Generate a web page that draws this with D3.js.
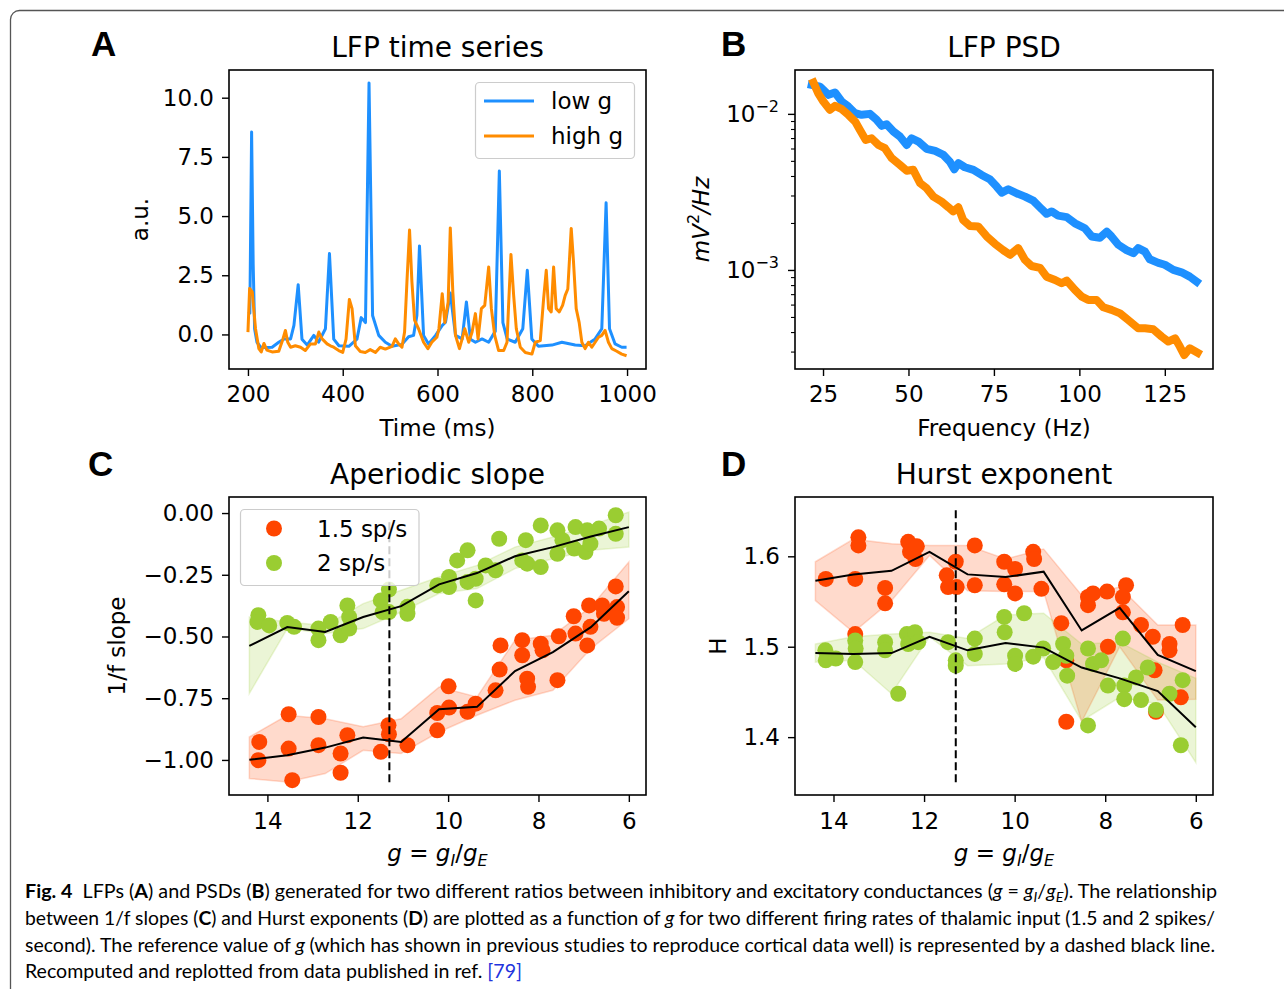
<!DOCTYPE html>
<html>
<head>
<meta charset="utf-8">
<script src="https://cdn.jsdelivr.net/npm/d3@7"></script>
<style>
  body { margin: 0; background: #fff; }
  svg { display: block; }
  text { font-family: "DejaVu Sans", sans-serif; fill: #000; }
</style>
</head>
<body>
<script>
// ---------- data ----------

// A: LFP time series, [time (ms), a.u.]
var lowG = [[200,0.88],[204,0.9],[207.7,8.55],[211,3.0],[214,0.24],[219,-0.33],[227,-0.54],[237,-0.55],[251,-0.54],
  [265,-0.33],[276,-0.19],[290,-0.19],[297,0.38],[306,2.1],[314,-0.2],[325,-0.45],[339,-0.04],[349,-0.33],[363.5,0.24],
  [372,3.42],[381,-0.2],[392,-0.48],[413,-0.5],[430,-0.2],[439,0.71],[448,0.5],[455.5,10.62],[463,0.8],[476,-0.04],
  [490,-0.33],[504,-0.5],[525,-0.42],[539,-0.1],[549.5,-0.04],[556.5,0.8],[562,3.74],[570.6,-0.04],[581,-0.4],
  [596,-0.04],[610,0.38],[617,0.52],[627,1.75],[638,-0.04],[652,-0.19],[661,1.37],[669.5,-0.2],[680,-0.33],[694,-0.19],
  [708,-0.33],[722,0.14],[730.5,6.9],[738,0.5],[747,-0.19],[764,-0.33],[780,0.24],[789.5,2.71],[799,-0.19],[813,-0.5],
  [841.5,-0.45],[862.5,-0.33],[890.5,-0.45],[911.6,-0.48],[932.7,-0.19],[946.7,0.24],[955.8,5.56],[963,0.24],
  [974.8,-0.4],[988.8,-0.54],[999,-0.54]];
var highG = [[200,0.1],[203.5,1.94],[209,1.8],[216,0.24],[223,-0.6],[228,-0.74],[233.7,-0.38],[240,-0.66],[251,-0.74],
  [265,-0.71],[273.7,-0.2],[279,0.17],[284,-0.33],[290,-0.54],[300,-0.48],[311,-0.54],[321,-0.68],[332,-0.4],[342.5,-0.4],
  [349.5,0.1],[356.5,-0.19],[367,-0.4],[374,-0.48],[381,-0.54],[391.6,-0.68],[400,-0.76],[407,-0.2],[414,1.48],
  [419.7,1.09],[426.7,-0.48],[437,-0.72],[447.7,-0.76],[458,-0.64],[469,-0.76],[479,-0.54],[490,-0.62],[504,-0.5],
  [511,-0.19],[518,-0.4],[525,-0.54],[530.5,0.1],[535.5,2.22],[541,4.41],[546,2.22],[551.6,0.6],[560,0.24],[570.6,-0.33],
  [579.7,-0.6],[588,-0.33],[598.6,-0.12],[603,0.24],[610,1.72],[615.5,0.5],[622.5,1.37],[627,4.5],[632.3,1.8],[638,-0.04],
  [646.3,-0.6],[652,-0.19],[657.5,0.24],[666,-0.33],[673,0.1],[680,0.88],[685.6,-0.19],[692.6,1.09],[699.7,1.23],
  [708,2.85],[713.7,1.09],[720.7,-0.04],[729,-0.68],[739.7,-0.68],[746.7,-0.33],[750,1.23],[755,3.38],[760.7,1.65],
  [766.3,0.24],[774.8,-0.54],[785.3,-0.76],[799.3,-0.83],[806.3,-0.33],[816.9,-0.26],[824,1.52],[829.5,2.71],
  [834.4,1.09],[840,0.95],[845,2.85],[850.5,1.09],[857,0.95],[864,1.23],[869.5,1.65],[875,1.92],[882.2,4.48],[887,3.07],
  [892.7,1.09],[899,0.5],[904.6,-0.33],[911.6,-0.6],[918.6,-0.33],[925.6,-0.54],[932.7,-0.33],[939.7,-0.12],
  [946.7,-0.04],[953.7,0.17],[960.7,-0.33],[967.8,-0.6],[978.3,-0.71],[988.8,-0.83],[999,-0.9]];

// B: PSD, [frequency (Hz), mV^2/Hz]
var lowGPsd = [[21.7,0.01535],[24.1,0.01496],[26.6,0.01324],[28.5,0.01371],[30.5,0.01199],[32.4,0.01114],[34.4,0.01009],
  [36.3,0.00986],[38.7,0.0100],[40.7,0.00916],[42.2,0.00838],[43.6,0.00859],[45.6,0.00771],[47.5,0.00716],[49.5,0.00632],
  [50.9,0.00698],[52.9,0.00665],[55.3,0.00597],[57.8,0.00579],[60.2,0.00546],[62.1,0.00494],[63.4,0.00442],[64.6,0.00483],
  [66.5,0.00455],[69.0,0.00438],[71.4,0.00406],[73.8,0.00381],[75.8,0.00342],[77.3,0.00313],[79.2,0.00329],[81.6,0.00310],
  [84.1,0.00295],[86.5,0.00278],[89.0,0.00245],[90.4,0.00229],[91.9,0.00237],[93.8,0.00223],[96.3,0.00218],[98.7,0.00199],
  [101.6,0.00185],[103.6,0.00164],[106.0,0.00161],[108.0,0.00176],[109.4,0.00164],[111.4,0.00145],[113.8,0.00134],
  [115.8,0.00128],[117.2,0.00138],[119.2,0.00131],[120.6,0.00117],[123.1,0.00111],[125.0,0.00108],[127.5,0.00100],
  [129.9,0.000966],[132.3,0.000906],[134.3,0.000841]];
var highGPsd = [[22.2,0.01589],[23.6,0.01355],[25.1,0.01199],[27.0,0.01062],[28.5,0.01125],[30.5,0.01072],[32.4,0.00986],
  [34.4,0.00893],[35.8,0.00789],[37.5,0.00681],[39.2,0.00698],[41.2,0.00632],[43.1,0.00603],[45.1,0.00520],[47.5,0.00471],
  [49.5,0.00432],[51.4,0.00438],[53.4,0.00360],[55.3,0.00334],[57.3,0.00295],[59.7,0.00274],[61.7,0.00252],[63.1,0.00237],
  [64.6,0.00252],[66.0,0.00209],[68.0,0.00191],[70.4,0.00190],[72.9,0.00164],[75.3,0.00147],[77.7,0.00134],[79.7,0.00125],
  [82.1,0.00138],[84.1,0.00116],[86.0,0.00106],[88.5,0.00103],[90.4,0.000906],[92.9,0.000863],[94.8,0.000822],
  [96.3,0.000855],[98.7,0.000745],[100.7,0.000675],[102.6,0.000643],[105.0,0.000643],[107.0,0.000577],[109.4,0.000555],
  [111.9,0.000527],[114.3,0.000478],[117.2,0.000423],[119.2,0.000423],[121.6,0.000417],[124.1,0.000374],[126.0,0.000348],
  [128.0,0.000365],[129.4,0.000323],[130.7,0.000285],[132.3,0.000315],[134.6,0.000295]];

// C/D: g groups, means and band edges
var gGroups = [14.4, 13.56, 12.72, 11.88, 11.04, 10.2, 9.36, 8.52, 7.68, 6.84, 6.0];
var refG = 11.3;

var slopeMean15 = [-0.999,-0.981,-0.950,-0.909,-0.927,-0.795,-0.785,-0.640,-0.563,-0.462,-0.317];
var slopeLo15   = [-1.075,-1.089,-1.055,-0.961,-0.974,-0.887,-0.819,-0.758,-0.718,-0.549,-0.428];
var slopeHi15   = [-0.907,-0.819,-0.833,-0.866,-0.833,-0.705,-0.745,-0.515,-0.495,-0.380,-0.198];
var slopeMean2  = [-0.538,-0.462,-0.482,-0.421,-0.377,-0.289,-0.243,-0.175,-0.138,-0.095,-0.057];
var slopeLo2    = [-0.731,-0.468,-0.488,-0.468,-0.401,-0.326,-0.306,-0.225,-0.185,-0.151,-0.138];
var slopeHi2    = [-0.421,-0.441,-0.455,-0.367,-0.313,-0.259,-0.212,-0.138,-0.097,-0.050,0.004];

var hurstMean15 = [1.573,1.580,1.584,1.605,1.580,1.577,1.583,1.518,1.543,1.491,1.473];
var hurstLo15   = [1.551,1.516,1.551,1.601,1.562,1.561,1.561,1.417,1.500,1.441,1.442];
var hurstHi15   = [1.594,1.619,1.614,1.612,1.612,1.597,1.608,1.557,1.566,1.524,1.524];
var hurstMean2  = [1.493,1.492,1.493,1.511,1.496,1.504,1.499,1.477,1.465,1.451,1.411];
var hurstLo2    = [1.483,1.485,1.448,1.511,1.479,1.481,1.488,1.418,1.444,1.437,1.372];
var hurstHi2    = [1.503,1.511,1.514,1.516,1.509,1.535,1.537,1.503,1.505,1.483,1.465];

// C/D: single runs, [g, value]
var slopePts15 = [[14.18,-0.927],[14.20,-1.001],[13.53,-0.815],[13.53,-0.954],[13.45,-1.082],[12.87,-0.826],[12.87,-0.940],
  [12.38,-0.974],[12.38,-1.052],[12.23,-0.900],[11.49,-0.967],[11.32,-0.859],[11.31,-0.896],[10.90,-0.940],[10.24,-0.810],
  [10.24,-0.880],[9.99,-0.702],[9.98,-0.788],[9.57,-0.805],[9.39,-0.772],[8.95,-0.718],[8.86,-0.634],[8.84,-0.536],
  [8.36,-0.515],[8.36,-0.576],[8.25,-0.671],[8.23,-0.704],[7.95,-0.529],[7.91,-0.556],[7.58,-0.677],[7.55,-0.499],
  [7.22,-0.418],[7.18,-0.488],[6.92,-0.536],[6.88,-0.374],[6.85,-0.461],[6.59,-0.374],[6.55,-0.408],[6.29,-0.297],
  [6.26,-0.381],[6.26,-0.424]];
var slopePts2 = [[14.20,-0.414],[14.22,-0.441],[13.96,-0.455],[13.56,-0.445],[13.41,-0.461],[12.87,-0.468],[12.87,-0.515],
  [12.60,-0.441],[12.38,-0.495],[12.23,-0.374],[12.19,-0.421],[12.19,-0.468],[11.49,-0.354],[11.45,-0.401],[11.31,-0.310],
  [11.31,-0.401],[10.90,-0.380],[10.90,-0.408],[10.24,-0.293],[9.98,-0.259],[9.98,-0.300],[9.80,-0.192],[9.57,-0.151],
  [9.57,-0.279],[9.39,-0.266],[9.39,-0.354],[9.17,-0.212],[8.95,-0.232],[8.87,-0.104],[8.36,-0.192],[8.28,-0.110],
  [8.25,-0.205],[7.95,-0.219],[7.95,-0.050],[7.58,-0.070],[7.58,-0.165],[7.47,-0.110],[7.21,-0.144],[7.18,-0.057],
  [6.96,-0.158],[6.92,-0.070],[6.85,-0.124],[6.66,-0.063],[6.29,-0.009],[6.29,-0.084]];
var hurstPts15 = [[14.17,1.575],[13.45,1.621],[13.45,1.612],[13.52,1.575],[13.52,1.514],[12.86,1.565],[12.86,1.548],
  [12.35,1.616],[12.31,1.605],[12.16,1.611],[12.19,1.597],[11.50,1.579],[11.47,1.566],[11.30,1.594],[11.28,1.566],
  [10.88,1.612],[10.88,1.568],[10.23,1.594],[10.23,1.569],[9.99,1.586],[9.99,1.559],[9.59,1.605],[9.57,1.597],
  [9.41,1.564],[8.97,1.526],[8.86,1.485],[8.86,1.417],[8.38,1.555],[8.38,1.546],[8.27,1.559],[7.96,1.561],[7.94,1.500],
  [7.54,1.568],[7.61,1.555],[7.61,1.538],[7.21,1.524],[6.95,1.511],[6.91,1.474],[6.88,1.428],[6.58,1.503],[6.58,1.496],
  [6.33,1.444],[6.29,1.524]];
var hurstPts2 = [[14.18,1.496],[14.17,1.485],[13.95,1.487],[13.52,1.507],[13.51,1.498],[13.52,1.483],[12.86,1.505],
  [12.86,1.496],[12.57,1.448],[12.38,1.514],[12.35,1.503],[12.20,1.516],[12.13,1.505],[11.47,1.505],[11.30,1.485],
  [11.30,1.479],[10.88,1.509],[10.88,1.492],[10.23,1.533],[10.22,1.516],[9.99,1.490],[9.99,1.481],[9.79,1.537],
  [9.59,1.489],[9.37,1.498],[9.15,1.483],[8.93,1.503],[8.86,1.490],[8.84,1.468],[8.38,1.498],[8.38,1.413],[8.27,1.481],
  [8.09,1.485],[7.94,1.457],[7.61,1.509],[7.58,1.457],[7.58,1.442],[7.32,1.466],[7.21,1.441],[7.06,1.477],[6.88,1.430],
  [6.58,1.448],[6.33,1.391],[6.29,1.463]];

var refSpanC = [-1.09, -0.03];
var refSpanD = [1.35, 1.651];

var ticksA_x = [200, 400, 600, 800, 1000], ticksA_y = [0, 2.5, 5, 7.5, 10];
var ticksB_x = [25, 50, 75, 100, 125], ticksB_y = [1e-2, 1e-3];
var ticksB_minor = [3e-4,4e-4,5e-4,6e-4,7e-4,8e-4,9e-4,2e-3,3e-3,4e-3,5e-3,6e-3,7e-3,8e-3,9e-3];
var ticksG = [14, 12, 10, 8, 6];
var ticksC_y = [0, -0.25, -0.5, -0.75, -1.0], ticksD_y = [1.4, 1.5, 1.6];

var captionLines = [
  [["Fig. 4","b"],["  LFPs (",""],["A","b"],[") and PSDs (",""],["B","b"],[") generated for two different ratios between inhibitory and excitatory conductances (",""],["g","i"],[" = ",""],["g","i"],["I","s"],["/",""],["g","i"],["E","s"],["). The relationship",""]],
  [["between 1/f slopes (",""],["C","b"],[") and Hurst exponents (",""],["D","b"],[") are plotted as a function of",""],[" g ","i"],["for two different firing rates of thalamic input (1.5 and 2 spikes/",""]],
  [["second). The reference value of",""],[" g ","i"],["(which has shown in previous studies to reproduce cortical data well) is represented by a dashed black line.",""]],
  [["Recomputed and replotted from data published in ref. ",""],["[79]","l"]]
];
var captionWidths = [1192, 1190, 1190, 497];

// ---------- drawing ----------
var blue = "#1e90ff", orange = "#ff8c00", red = "#ff4500", green = "#9acd32";

var svg = d3.select("body").append("svg")
    .attr("width", 1284)
    .attr("height", 989);

// outer rounded frame of the figure
svg.append("rect")
    .attr("x", 10.5).attr("y", 10.5)
    .attr("width", 1400).attr("height", 1100)
    .attr("rx", 9)
    .attr("fill", "none")
    .attr("stroke", "#555")
    .attr("stroke-width", 1.3);

var boxA = {x: 229, y: 70, w: 417, h: 299},
    boxB = {x: 795, y: 70, w: 418, h: 299},
    boxC = {x: 229, y: 497, w: 417, h: 298},
    boxD = {x: 795, y: 497, w: 418, h: 298};

function panel(box) {
  return svg.append("g").attr("transform", "translate(" + box.x + "," + box.y + ")");
}

function styleAxis(a) {
  a.attr("font-family", "DejaVu Sans").attr("font-size", 23);
  a.select(".domain").remove();
  a.selectAll(".tick line").attr("stroke-width", 1.4);
  a.selectAll(".tick text").attr("fill", "#000");
  return a;
}

function frame(g, box) {
  g.append("rect")
      .attr("width", box.w).attr("height", box.h)
      .attr("fill", "none")
      .attr("stroke", "#000")
      .attr("stroke-width", 1.6);
}

function title(box, txt, baseline) {
  svg.append("text")
      .attr("x", box.x + box.w / 2).attr("y", baseline)
      .attr("text-anchor", "middle")
      .attr("font-size", 28)
      .text(txt);
}

function letter(x, y, txt) {
  svg.append("text")
      .attr("x", x).attr("y", y)
      .style("font-family", "'Liberation Sans', Arial, sans-serif")
      .attr("font-weight", "bold")
      .attr("font-size", 35)
      .text(txt);
}

function yLabel(x, y, txt) {
  return svg.append("text")
      .attr("transform", "translate(" + x + "," + y + ") rotate(-90)")
      .attr("text-anchor", "middle")
      .attr("font-size", 23)
      .text(txt);
}

function gRatioLabel(x, y) {
  var t = svg.append("text")
      .attr("x", x).attr("y", y)
      .attr("text-anchor", "middle")
      .attr("font-size", 23)
      .style("white-space", "pre");
  t.append("tspan").attr("font-style", "italic").text("g");
  t.append("tspan").text(" = ");
  t.append("tspan").attr("font-style", "italic").text("g");
  t.append("tspan").attr("font-style", "italic").attr("font-size", 16).attr("dy", 5).text("I");
  t.append("tspan").attr("dy", -5).text("/");
  t.append("tspan").attr("font-style", "italic").text("g");
  t.append("tspan").attr("font-style", "italic").attr("font-size", 16).attr("dy", 5).text("E");
}

// ---- A: LFP time series ----
var gA = panel(boxA);
var xA = d3.scaleLinear().domain([160, 1040]).range([0, boxA.w]);
var yA = d3.scaleLinear().domain([-1.46, 11.17]).range([boxA.h, 0]);
var lineA = d3.line().x(function(d) { return xA(d[0]); }).y(function(d) { return yA(d[1]); });

gA.append("path").datum(lowG).attr("d", lineA)
    .attr("fill", "none").attr("stroke", blue).attr("stroke-width", 3).attr("stroke-linejoin", "round");
gA.append("path").datum(highG).attr("d", lineA)
    .attr("fill", "none").attr("stroke", orange).attr("stroke-width", 3).attr("stroke-linejoin", "round");

styleAxis(gA.append("g").attr("transform", "translate(0," + boxA.h + ")")
    .call(d3.axisBottom(xA).tickValues(ticksA_x).tickSize(7).tickPadding(10).tickFormat(d3.format("d"))));
styleAxis(gA.append("g")
    .call(d3.axisLeft(yA).tickValues(ticksA_y).tickSize(7).tickPadding(8).tickFormat(d3.format(".1f"))));
frame(gA, boxA);

// legend A
var legA = svg.append("g");
legA.append("rect").attr("x", 475.5).attr("y", 82.5).attr("width", 159).attr("height", 76).attr("rx", 4)
    .attr("fill", "#fff").attr("fill-opacity", 0.8).attr("stroke", "#ccc").attr("stroke-width", 1.2);
[["low g", blue, 101], ["high g", orange, 136]].forEach(function(e) {
  legA.append("line").attr("x1", 484).attr("x2", 534).attr("y1", e[2]).attr("y2", e[2])
      .attr("stroke", e[1]).attr("stroke-width", 3);
  legA.append("text").attr("x", 551).attr("y", e[2] + 8).attr("font-size", 23).text(e[0]);
});

title(boxA, "LFP time series", 57);
svg.append("text").attr("x", boxA.x + boxA.w / 2).attr("y", 436).attr("text-anchor", "middle")
    .attr("font-size", 23).text("Time (ms)");
yLabel(148, boxA.y + boxA.h / 2, "a.u.");
letter(91, 56, "A");

// ---- B: LFP PSD ----
var gB = panel(boxB);
var xB = d3.scaleLinear().domain([16.8, 139.1]).range([0, boxB.w]);
var yB = d3.scaleLog().domain([0.000232, 0.0191]).range([boxB.h, 0]);
var lineB = d3.line().x(function(d) { return xB(d[0]); }).y(function(d) { return yB(d[1]); });

gB.append("path").datum(lowGPsd).attr("d", lineB)
    .attr("fill", "none").attr("stroke", blue).attr("stroke-width", 8)
    .attr("stroke-linejoin", "round").attr("stroke-linecap", "square");
gB.append("path").datum(highGPsd).attr("d", lineB)
    .attr("fill", "none").attr("stroke", orange).attr("stroke-width", 8)
    .attr("stroke-linejoin", "round").attr("stroke-linecap", "square");

styleAxis(gB.append("g").attr("transform", "translate(0," + boxB.h + ")")
    .call(d3.axisBottom(xB).tickValues(ticksB_x).tickSize(7).tickPadding(10).tickFormat(d3.format("d"))));
styleAxis(gB.append("g")
    .call(d3.axisLeft(yB).tickValues(ticksB_minor).tickSize(4).tickFormat("")))
    .selectAll(".tick line").attr("stroke-width", 1.1);
var yAxB = styleAxis(gB.append("g")
    .call(d3.axisLeft(yB).tickValues(ticksB_y).tickSize(7).tickFormat("")));
yAxB.selectAll(".tick").each(function(d) {
  var t = d3.select(this).append("text")
      .attr("x", -16).attr("dy", "0.32em")
      .attr("text-anchor", "end").attr("fill", "#000");
  t.append("tspan").text("10");
  t.append("tspan").attr("font-size", 16).attr("dy", -10).text("\u2212" + Math.round(-Math.log10(d)));
});
frame(gB, boxB);

title(boxB, "LFP PSD", 57);
svg.append("text").attr("x", boxB.x + boxB.w / 2).attr("y", 436).attr("text-anchor", "middle")
    .attr("font-size", 23).text("Frequency (Hz)");
var ylB = svg.append("text")
    .attr("transform", "translate(709," + (boxB.y + boxB.h / 2) + ") rotate(-90)")
    .attr("text-anchor", "middle").attr("font-size", 23);
ylB.append("tspan").attr("font-style", "italic").text("mV");
ylB.append("tspan").attr("font-size", 16).attr("dy", -10).text("2");
ylB.append("tspan").attr("font-style", "italic").attr("dy", 10).text("/Hz");
letter(721, 56, "B");

// ---- C & D: group panels ----
function groupPanel(box, yScale, pts15, pts2, lo15, hi15, mean15, lo2, hi2, mean2, refSpan) {
  var g = panel(box);
  var x = d3.scaleLinear().domain([14.85, 5.62]).range([0, box.w]);
  var area = d3.area()
      .x(function(d, i) { return x(gGroups[i]); })
      .y0(function(d) { return yScale(d[0]); })
      .y1(function(d) { return yScale(d[1]); });
  var mline = d3.line()
      .x(function(d, i) { return x(gGroups[i]); })
      .y(function(d) { return yScale(d); });

  [[lo15, hi15, red], [lo2, hi2, green]].forEach(function(s) {
    g.append("path").datum(d3.zip(s[0], s[1])).attr("d", area)
        .attr("fill", s[2]).attr("fill-opacity", 0.2)
        .attr("stroke", s[2]).attr("stroke-opacity", 0.2).attr("stroke-width", 1.5);
  });
  [[pts15, red], [pts2, green]].forEach(function(s) {
    g.append("g").selectAll("circle").data(s[0]).enter().append("circle")
        .attr("cx", function(d) { return x(d[0]); })
        .attr("cy", function(d) { return yScale(d[1]); })
        .attr("r", 8)
        .attr("fill", s[1]);
  });
  [mean15, mean2].forEach(function(m) {
    g.append("path").datum(m).attr("d", mline)
        .attr("fill", "none").attr("stroke", "#000").attr("stroke-width", 2);
  });
  g.append("line")
      .attr("x1", x(refG)).attr("x2", x(refG))
      .attr("y1", yScale(refSpan[0])).attr("y2", yScale(refSpan[1]))
      .attr("stroke", "#000").attr("stroke-width", 2).attr("stroke-dasharray", "8,4");

  styleAxis(g.append("g").attr("transform", "translate(0," + box.h + ")")
      .call(d3.axisBottom(x).tickValues(ticksG).tickSize(7).tickPadding(11).tickFormat(d3.format("d"))));
  frame(g, box);
  return g;
}

var yC = d3.scaleLinear().domain([-1.142, 0.065]).range([boxC.h, 0]);
var gC = groupPanel(boxC, yC, slopePts15, slopePts2, slopeLo15, slopeHi15, slopeMean15,
    slopeLo2, slopeHi2, slopeMean2, refSpanC);
styleAxis(gC.append("g")
    .call(d3.axisLeft(yC).tickValues(ticksC_y).tickSize(7).tickPadding(8).tickFormat(d3.format(".2f"))));

var yD = d3.scaleLinear().domain([1.336, 1.6656]).range([boxD.h, 0]);
var gD = groupPanel(boxD, yD, hurstPts15, hurstPts2, hurstLo15, hurstHi15, hurstMean15,
    hurstLo2, hurstHi2, hurstMean2, refSpanD);
styleAxis(gD.append("g")
    .call(d3.axisLeft(yD).tickValues(ticksD_y).tickSize(7).tickPadding(8).tickFormat(d3.format(".1f"))));

// legend C
var legC = svg.append("g");
legC.append("rect").attr("x", 240.5).attr("y", 509.5).attr("width", 178.5).attr("height", 76).attr("rx", 4)
    .attr("fill", "#fff").attr("fill-opacity", 0.8).attr("stroke", "#ccc").attr("stroke-width", 1.2);
[["1.5 sp/s", red, 528.5], ["2 sp/s", green, 563]].forEach(function(e) {
  legC.append("circle").attr("cx", 274).attr("cy", e[2]).attr("r", 8).attr("fill", e[1]);
  legC.append("text").attr("x", 317).attr("y", e[2] + 8).attr("font-size", 23).text(e[0]);
});

title(boxC, "Aperiodic slope", 484);
title(boxD, "Hurst exponent", 484);
gRatioLabel(boxC.x + boxC.w / 2, 861);
gRatioLabel(boxD.x + boxD.w / 2, 861);
yLabel(125, boxC.y + boxC.h / 2, "1/f slope");
yLabel(726, boxD.y + boxD.h / 2, "H");
letter(88, 476, "C");
letter(721, 476, "D");

// ---- caption ----
var cap = svg.append("g");
captionLines.forEach(function(line, li) {
  var t = cap.append("text")
      .attr("x", 25).attr("y", 898 + li * 26.8)
      .style("font-family", "Lato, 'Open Sans', sans-serif")
      .style("white-space", "pre")
      .attr("font-size", 19.5)
      .attr("fill", "#231f20")
      .attr("textLength", captionWidths[li])
      .attr("lengthAdjust", "spacingAndGlyphs");
  var shifted = false;
  line.forEach(function(seg) {
    var s = t.append("tspan").text(seg[0]);
    if (shifted) { s.attr("dy", -4); shifted = false; }
    if (seg[1] === "b") s.attr("font-weight", "bold");
    if (seg[1] === "i") s.attr("font-style", "italic");
    if (seg[1] === "s") { s.attr("font-style", "italic").attr("font-size", 14).attr("dy", 4); shifted = true; }
    if (seg[1] === "l") s.attr("fill", "#2233dd");
  });
});
</script>
</body>
</html>
